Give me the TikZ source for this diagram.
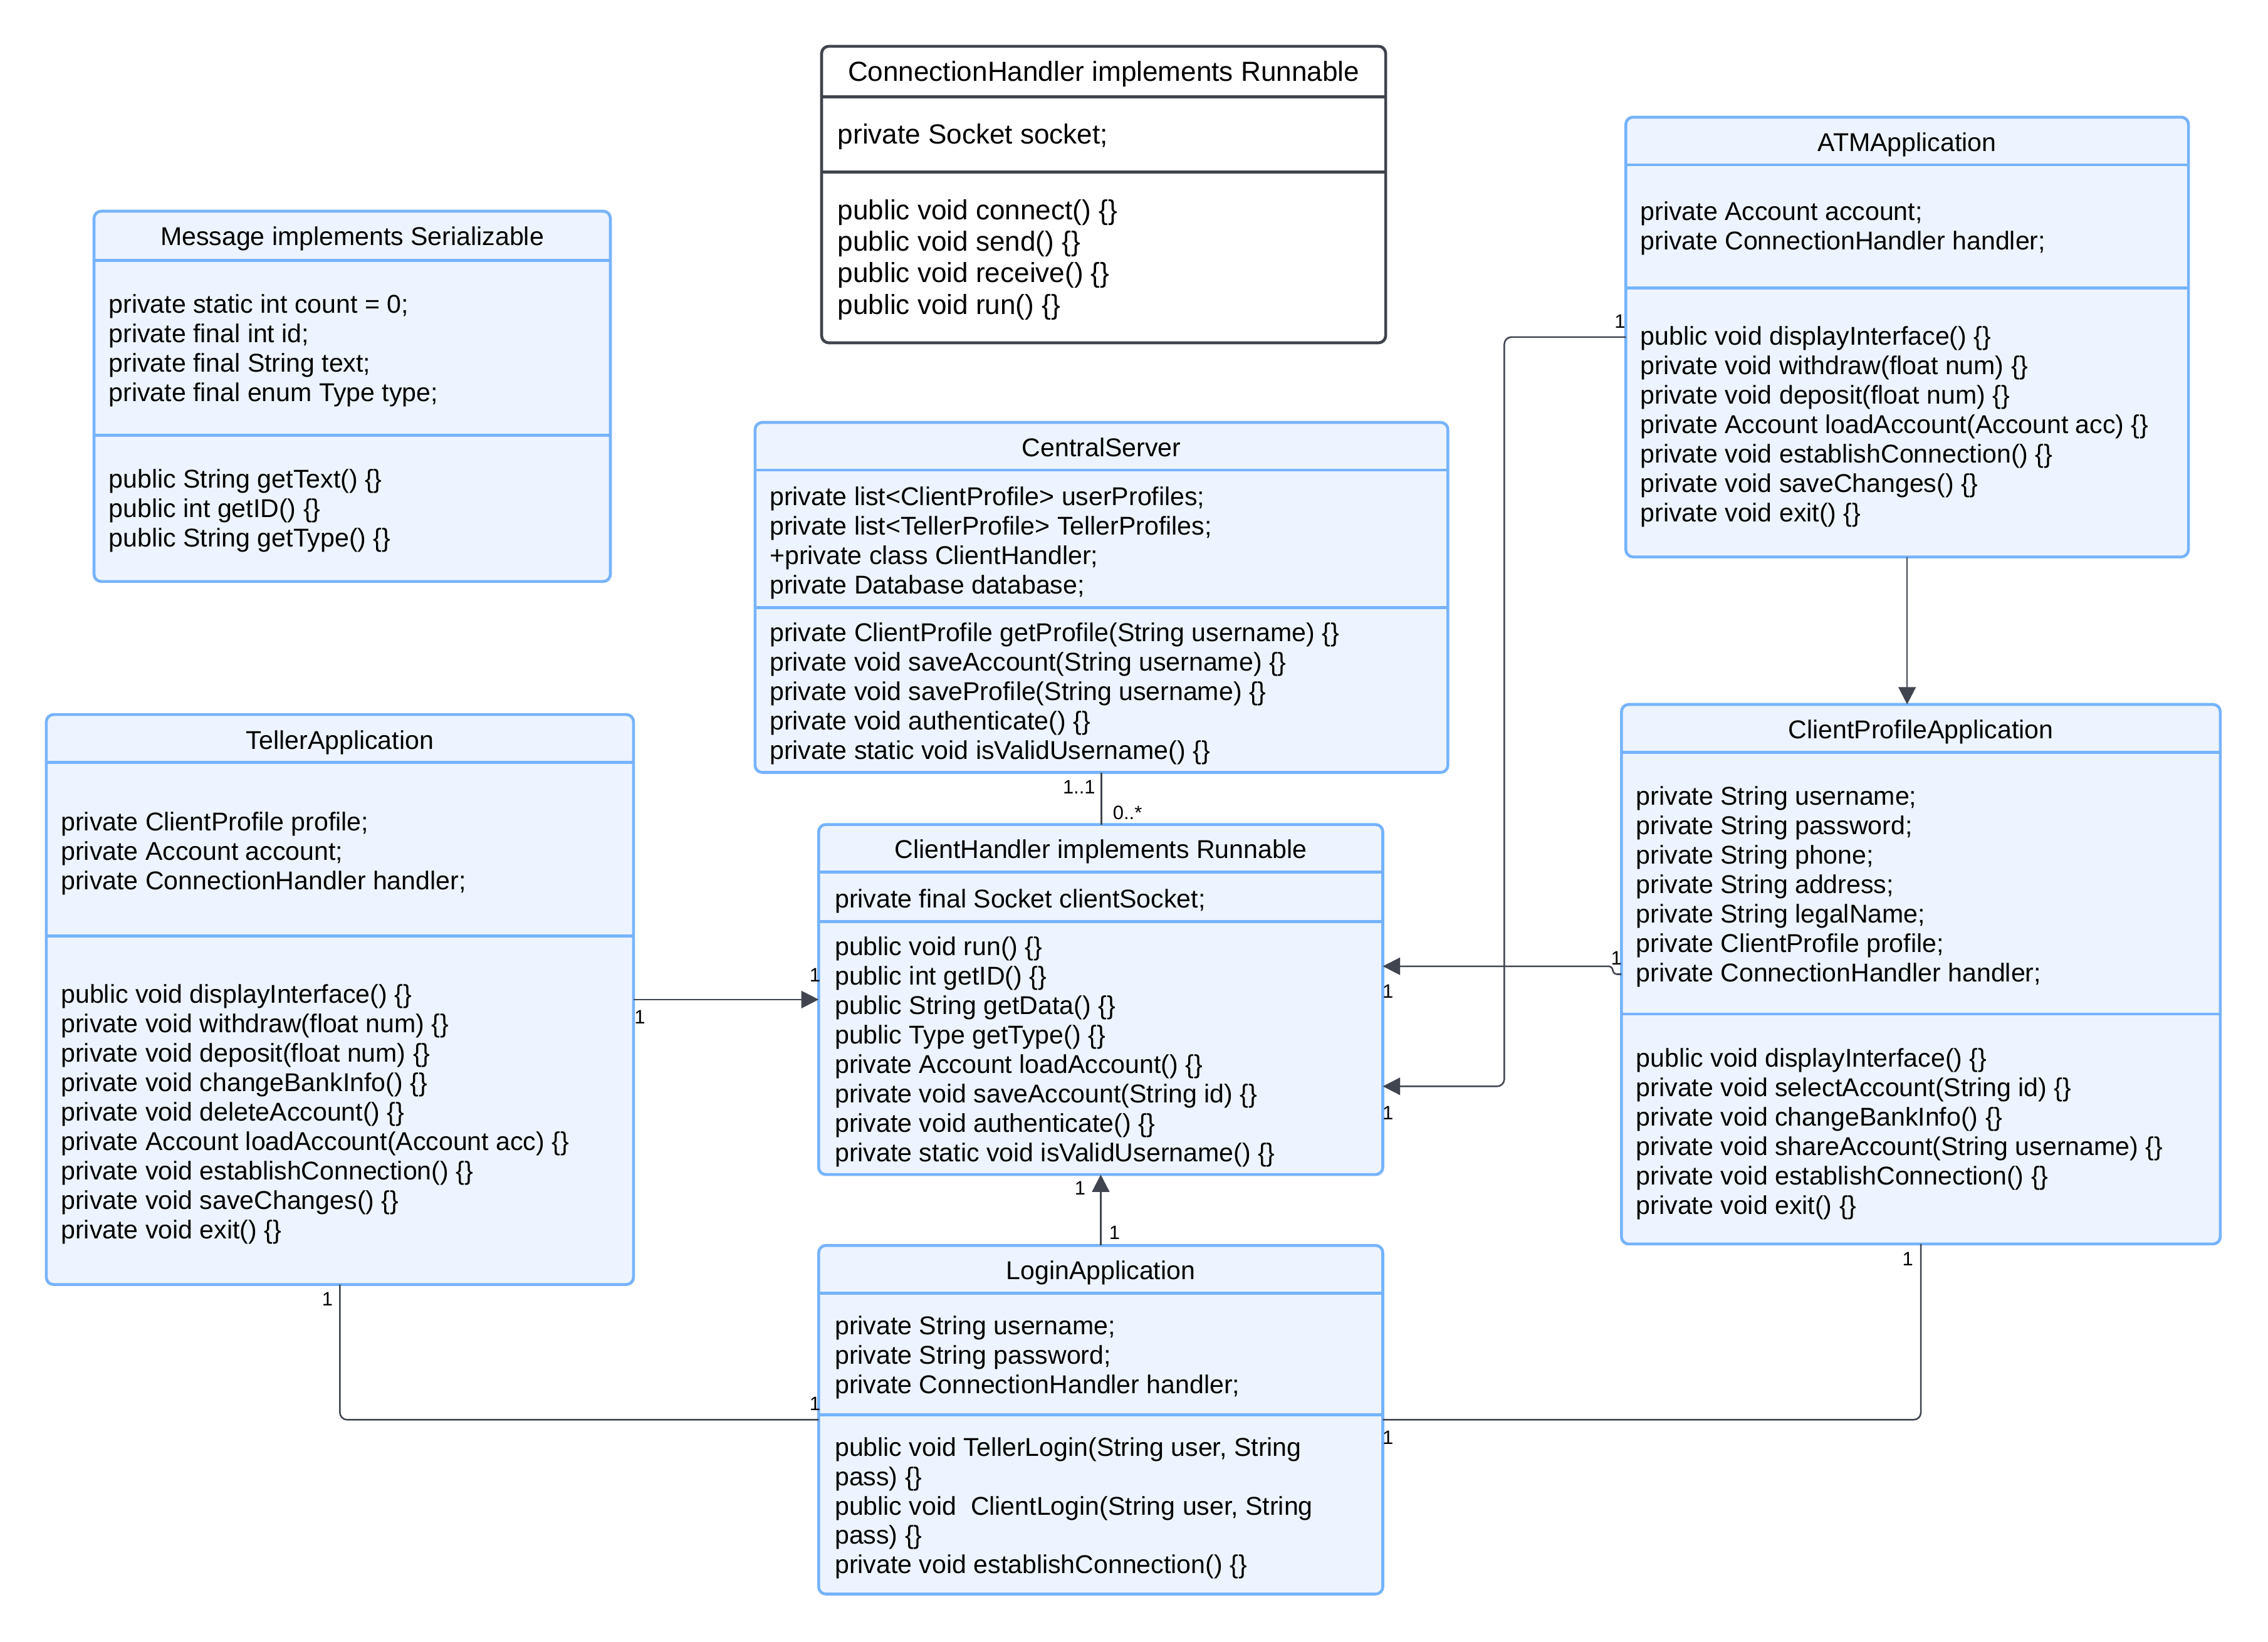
\documentclass[tikz,border=0pt]{standalone}
\usepackage{fontspec}
\setmainfont{Liberation Sans}
\usetikzlibrary{arrows.meta}

\definecolor{boxfill}{HTML}{EDF4FF}
\definecolor{boxline}{HTML}{76B3FB}
\definecolor{linkcol}{HTML}{40454F}
\definecolor{darkline}{HTML}{3F444C}

\newcommand{\bodyfont}{\fontsize{17.8}{20.35}\selectfont}
\newcommand{\largebodyfont}{\fontsize{19.1}{21.8}\selectfont}
\newcommand{\multfont}{\fontsize{13.4}{15}\selectfont}
\newcommand{\rows}[1]{\begin{tabular}[t]{@{}l@{}}#1\end{tabular}}

\tikzset{
  cls/.style={draw=boxline, fill=boxfill, line width=2pt, rounded corners=5pt,
    inner sep=0pt, outer sep=0pt, anchor=north west},
  plaincls/.style={cls, draw=darkline, fill=white},
  divider/.style={draw=boxline, line width=2pt},
  darkdivider/.style={draw=darkline, line width=2pt},
  title/.style={font=\bodyfont, anchor=base, inner sep=0pt},
  members/.style={font=\bodyfont, anchor=base west, inner sep=0pt},
  link/.style={draw=linkcol, line width=1.1pt, rounded corners=5pt},
  arrow/.style={link, -{Triangle[length=12pt,width=12pt]}},
  mult/.style={font=\multfont, inner sep=0pt}
}

\begin{document}
\begin{tikzpicture}[x=1pt, y=-1pt]
\useasboundingbox (0,0) rectangle (1568,1135);
\fill[white] (0,0) rectangle (1568,1135);

% ConnectionHandler
\node[plaincls, minimum width=390pt, minimum height=205pt] (conn) at (568,32) {};
\draw[darkdivider] (conn.west |- 0,67) -- (conn.east |- 0,67);
\draw[darkdivider] (conn.west |- 0,119) -- (conn.east |- 0,119);
\node[title, font=\largebodyfont] (connT) at (763,56.2) {ConnectionHandler implements Runnable};
\node[members, font=\largebodyfont] (connA) at (579,99.3) {\rows{private Socket socket;}};
\node[members, font=\largebodyfont] (connM) at (579,151.7) {\rows{public void connect() \{\}\\
public void send() \{\}\\
public void receive() \{\}\\
public void run() \{\}}};

% Message
\node[cls, minimum width=357pt, minimum height=256pt] (msg) at (65,146) {};
\draw[divider] (msg.west |- 0,180) -- (msg.east |- 0,180);
\draw[divider] (msg.west |- 0,301) -- (msg.east |- 0,301);
\node[title] (msgT) at (243.5,169.5) {Message implements Serializable};
\node[members] (msgA) at (75,216.5) {\rows{private static int count = 0;\\
private final int id;\\
private final String text;\\
private final enum Type type;}};
\node[members] (msgM) at (75,337.5) {\rows{public String getText() \{\}\\
public int getID() \{\}\\
public String getType() \{\}}};

% ATMApplication
\node[cls, minimum width=389pt, minimum height=304pt] (atm) at (1124,81) {};
\draw[divider] (atm.west |- 0,114) -- (atm.east |- 0,114);
\draw[divider] (atm.west |- 0,199) -- (atm.east |- 0,199);
\node[title] (atmT) at (1318.5,104.5) {ATMApplication};
\node[members] (atmA) at (1134,152.5) {\rows{private Account account;\\
private ConnectionHandler handler;}};
\node[members] (atmM) at (1134,238.5) {\rows{public void displayInterface() \{\}\\
private void withdraw(float num) \{\}\\
private void deposit(float num) \{\}\\
private Account loadAccount(Account acc) \{\}\\
private void establishConnection() \{\}\\
private void saveChanges() \{\}\\
private void exit() \{\}}};

% CentralServer
\node[cls, minimum width=479pt, minimum height=242pt] (cs) at (522,292) {};
\draw[divider] (cs.west |- 0,325) -- (cs.east |- 0,325);
\draw[divider] (cs.west |- 0,420) -- (cs.east |- 0,420);
\node[title] (csT) at (761.5,315.5) {CentralServer};
\node[members] (csA) at (532,349.5) {\rows{private list<ClientProfile> userProfiles;\\
private list<TellerProfile> TellerProfiles;\\
+private class ClientHandler;\\
private Database database;}};
\node[members] (csM) at (532,443.5) {\rows{private ClientProfile getProfile(String username) \{\}\\
private void saveAccount(String username) \{\}\\
private void saveProfile(String username) \{\}\\
private void authenticate() \{\}\\
private static void isValidUsername() \{\}}};

% TellerApplication
\node[cls, minimum width=406pt, minimum height=394pt] (teller) at (32,494) {};
\draw[divider] (teller.west |- 0,527) -- (teller.east |- 0,527);
\draw[divider] (teller.west |- 0,647) -- (teller.east |- 0,647);
\node[title] (tellerT) at (235,518) {TellerApplication};
\node[members] (tellerA) at (42,574.5) {\rows{private ClientProfile profile;\\
private Account account;\\
private ConnectionHandler handler;}};
\node[members] (tellerM) at (42,693.5) {\rows{public void displayInterface() \{\}\\
private void withdraw(float num) \{\}\\
private void deposit(float num) \{\}\\
private void changeBankInfo() \{\}\\
private void deleteAccount() \{\}\\
private Account loadAccount(Account acc) \{\}\\
private void establishConnection() \{\}\\
private void saveChanges() \{\}\\
private void exit() \{\}}};

% ClientHandler
\node[cls, minimum width=390pt, minimum height=242pt] (chd) at (566,570) {};
\draw[divider] (chd.west |- 0,603) -- (chd.east |- 0,603);
\draw[divider] (chd.west |- 0,637) -- (chd.east |- 0,637);
\node[title] (chdT) at (761,593.5) {ClientHandler implements Runnable};
\node[members] (chdA) at (577,627.5) {\rows{private final Socket clientSocket;}};
\node[members] (chdM) at (577,660.5) {\rows{public void run() \{\}\\
public int getID() \{\}\\
public String getData() \{\}\\
public Type getType() \{\}\\
private Account loadAccount() \{\}\\
private void saveAccount(String id) \{\}\\
private void authenticate() \{\}\\
private static void isValidUsername() \{\}}};

% ClientProfileApplication
\node[cls, minimum width=414pt, minimum height=373pt] (cpa) at (1121,487) {};
\draw[divider] (cpa.west |- 0,520) -- (cpa.east |- 0,520);
\draw[divider] (cpa.west |- 0,701) -- (cpa.east |- 0,701);
\node[title] (cpaT) at (1328,510.5) {ClientProfileApplication};
\node[members] (cpaA) at (1131,556.5) {\rows{private String username;\\
private String password;\\
private String phone;\\
private String address;\\
private String legalName;\\
private ClientProfile profile;\\
private ConnectionHandler handler;}};
\node[members] (cpaM) at (1131,737.5) {\rows{public void displayInterface() \{\}\\
private void selectAccount(String id) \{\}\\
private void changeBankInfo() \{\}\\
private void shareAccount(String username) \{\}\\
private void establishConnection() \{\}\\
private void exit() \{\}}};

% LoginApplication
\node[cls, minimum width=390pt, minimum height=241pt] (login) at (566,861) {};
\draw[divider] (login.west |- 0,894) -- (login.east |- 0,894);
\draw[divider] (login.west |- 0,978) -- (login.east |- 0,978);
\node[title] (loginT) at (761,884.5) {LoginApplication};
\node[members] (loginA) at (577,922.5) {\rows{private String username;\\
private String password;\\
private ConnectionHandler handler;}};
\node[members] (loginM) at (577,1006.5) {\rows{public void TellerLogin(String user, String\\
pass) \{\}\\
public void\ \ ClientLogin(String user, String\\
pass) \{\}\\
private void establishConnection() \{\}}};

% Associations
\draw[link] (cs.south) -- (cs.south |- chd.north);
\draw[arrow] (teller.east) -- (chd.west);
\draw[arrow] (atm.west) -- ++(-84,0) |- ([yshift=-60pt]chd.east);
\draw[arrow, rounded corners=3pt] (cpa.west) -- ++(-6,0) |- ([yshift=23pt]chd.east);
\draw[arrow] (atm.south) -- (atm.south |- cpa.north);
\draw[arrow] (login.north) -- (chd.south);
\draw[link] (teller.south) |- (login.west);
\draw[link] (login.east) -| (cpa.south);

% Multiplicities
\node[mult] (m1) at (746,544) {1..1};
\node[mult] (m2) at (779.5,561.7) {0..*};
\node[mult] (m3) at (442.3,703) {1};
\node[mult] (m4) at (563.5,674) {1};
\node[mult] (m5) at (1120,222) {1};
\node[mult] (m6) at (959.6,769.3) {1};
\node[mult] (m7) at (1117.5,662.5) {1};
\node[mult] (m8) at (959.6,685.5) {1};
\node[mult] (m9) at (746.7,821.3) {1};
\node[mult] (m10) at (770.5,852) {1};
\node[mult] (m11) at (226.4,898.2) {1};
\node[mult] (m12) at (563.5,970.4) {1};
\node[mult] (m13) at (959.6,994) {1};
\node[mult] (m14) at (1319,870.5) {1};
\end{tikzpicture}
\end{document}
